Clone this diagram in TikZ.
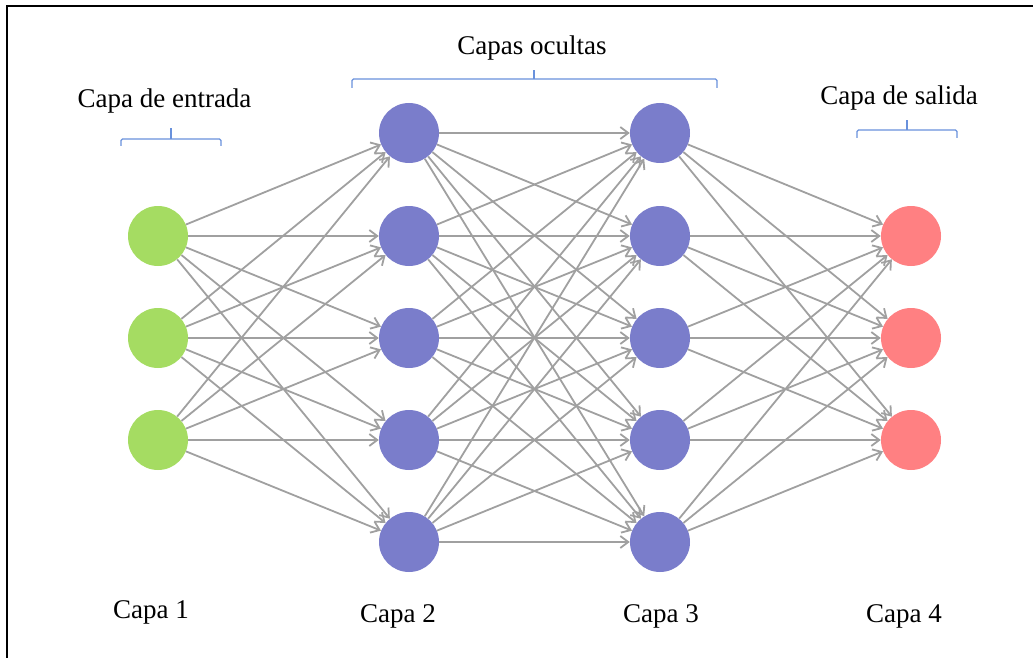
\documentclass[tikz,border=0pt]{standalone}
\usepackage{fontspec}
\setmainfont{Liberation Serif}
\usetikzlibrary{arrows.meta}
\definecolor{inputc}{RGB}{165,220,98}
\definecolor{hiddenc}{RGB}{122,125,203}
\definecolor{outputc}{RGB}{255,128,130}
\definecolor{edgegray}{RGB}{160,160,160}
\definecolor{bracec}{RGB}{105,145,220}
\begin{document}
\begin{tikzpicture}[x=1pt,y=-1pt,
  neuron/.style={circle, minimum size=60pt, inner sep=0pt, draw=none},
  conn/.style={draw=edgegray, line width=1.8pt, -{Straight Barb[length=8pt,width=12pt]}},
  lbl/.style={font=\fontsize{27}{32}\selectfont, inner sep=0pt, anchor=base},
  brace/.style={draw=bracec, line width=1.2pt, rounded corners=1.5pt}]
\useasboundingbox (0,0) rectangle (1033,658);
% frame
\draw[line width=2pt] (7,670) -- (7,6) -- (1045,6);

% neurons
\foreach \i/\y in {1/236,2/338,3/440}
  \node[neuron, fill=inputc] (a\i) at (158,\y) {};
\foreach \i/\y in {1/133,2/236,3/338,4/440,5/542} {
  \node[neuron, fill=hiddenc] (b\i) at (409,\y) {};
  \node[neuron, fill=hiddenc] (c\i) at (660,\y) {};
}
\foreach \i/\y in {1/236,2/338,3/440}
  \node[neuron, fill=outputc] (d\i) at (911,\y) {};

% connections
\foreach \i in {1,2,3}
  \foreach \j in {1,...,5}
    \draw[conn] (a\i) -- (b\j);
\foreach \i in {1,...,5}
  \foreach \j in {1,...,5}
    \draw[conn] (b\i) -- (c\j);
\foreach \i in {1,...,5}
  \foreach \j in {1,2,3}
    \draw[conn] (c\i) -- (d\j);

% layer labels
\node[lbl] (l1) at (151,618) {Capa 1};
\node[lbl] (l2) at (398,622) {Capa 2};
\node[lbl] (l3) at (661,622) {Capa 3};
\node[lbl] (l4) at (904,622) {Capa 4};

% group labels
\node[lbl] (gin) at (164.5,108) {Capa de entrada};
\node[lbl] (ghid) at (532,55) {Capas ocultas};
\node[lbl] (gout) at (899,105) {Capa de salida};

% braces
\draw[brace] (121,146) -- (121,139) -- (221,139) -- (221,146);
\draw[brace] (171,139) -- (171,128);
\draw[brace] (352,88) -- (352,79) -- (717,79) -- (717,88);
\draw[brace] (534,79) -- (534,70);
\draw[brace] (857,138) -- (857,130) -- (957,130) -- (957,138);
\draw[brace] (907,130) -- (907,120);
\end{tikzpicture}
\end{document}
